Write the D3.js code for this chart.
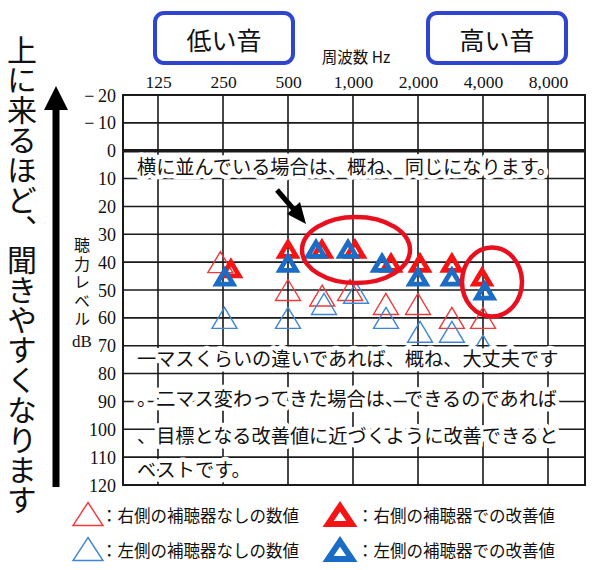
<!DOCTYPE html>
<html><head><meta charset="utf-8">
<script src="https://cdn.jsdelivr.net/npm/d3@7"></script>
<style>html,body{margin:0;padding:0;background:#fff;}</style>
</head><body>
<svg id="c" width="600" height="570"></svg>
<script>
// ---- data ----
const freqTicks = [125, 250, 500, 1000, 2000, 4000, 8000];
const freqLabels = ["125", "250", "500", "1,000", "2,000", "4,000", "8,000"];
const dbTicks = [-20, -10, 0, 10, 20, 30, 40, 50, 60, 70, 80, 90, 100, 110, 120];
const dbLabels = ["−\u200920", "−\u200910", "0", "10", "20", "30", "40", "50", "60", "70", "80", "90", "100", "110", "120"];

const rightUnaidedHz = [243, 500, 720, 970, 1420, 2000, 2870, 4000];
const rightUnaidedDb = [40, 50, 52, 50, 55, 55, 60, 60];
const leftUnaidedHz  = [254, 500, 734, 1033, 1422, 2044, 2870, 4000];
const leftUnaidedDb  = [60, 60, 55, 51, 60, 65, 65, 70];
const rightAidedHz   = [272, 500, 718, 1021, 1500, 2043, 2870, 3960];
const rightAidedDb   = [42, 35, 35, 35, 40, 40, 40, 45];
const leftAidedHz    = [255, 500, 674, 948, 1363, 2000, 2870, 4080];
const leftAidedDb    = [45, 40, 35, 35, 40, 45, 45, 50];

const lowLabel = "低い音", highLabel = "高い音";
const freqTitle = "周波数 Hz";
const yTitle = "聴力レベル";
const yTitleUnit = "dB";
const sideText = "上に来るほど、聞きやすくなります";
const note1 = "横に並んでいる場合は、概ね、同じになります。";
const note2 = ["一マスくらいの違いであれば、概ね、大丈夫です",
               "。二マス変わってきた場合は、できるのであれば",
               "、目標となる改善値に近づくように改善できると",
               "ベストです。"];
const legendItems = [
  {text: "：右側の補聴器なしの数値", color: "#ee3a3a", solid: false},
  {text: "：右側の補聴器での改善値", color: "#f41414", solid: true},
  {text: "：左側の補聴器なしの数値", color: "#3f86d2", solid: false},
  {text: "：左側の補聴器での改善値", color: "#1a6cc4", solid: true}
];

// ---- layout ----
const svg = d3.select("#c");
const L = 123, R = 585, T = 95, B = 485;
const x = d3.scaleLog().base(2).domain([125 / Math.pow(2, 35 / 65), 8000 * Math.pow(2, 37 / 65)]).range([L, R]);
const y = d3.scaleLinear().domain([-20, 120]).range([T, B]);
const jp = "'Noto Sans CJK JP', 'Noto Sans', sans-serif";
const serif = "'Liberation Serif', 'DejaVu Serif', serif";

// grid
const g = svg.append("g");
g.selectAll("line.h").data(dbTicks).join("line")
  .attr("x1", L).attr("x2", R).attr("y1", d => y(d)).attr("y2", d => y(d))
  .attr("stroke", "#1a1a1a").attr("stroke-width", d => d === 0 ? 3.5 : 1.6);
g.selectAll("line.v").data(freqTicks).join("line")
  .attr("x1", d => x(d)).attr("x2", d => x(d)).attr("y1", T).attr("y2", B)
  .attr("stroke", "#1a1a1a").attr("stroke-width", 1.6);
g.append("rect").attr("x", L).attr("y", T).attr("width", R - L).attr("height", B - T)
  .attr("fill", "none").attr("stroke", "#1a1a1a").attr("stroke-width", 2);

// axis labels (via d3 axes, domain/ticks hidden)
const yAxis = d3.axisLeft(y).tickValues(dbTicks).tickSize(0).tickPadding(0).tickFormat((d, i) => dbLabels[i]);
const ya = svg.append("g").attr("transform", `translate(${L - 7},0)`).call(yAxis);
ya.select(".domain").remove();
ya.selectAll("text").attr("font-family", serif).attr("font-size", 18).attr("fill", "#111").attr("dy", "0.34em");

const xAxis = d3.axisTop(x).tickValues(freqTicks).tickSize(0).tickPadding(0).tickFormat((d, i) => freqLabels[i]);
const xa = svg.append("g").attr("transform", `translate(0,${88})`).call(xAxis);
xa.select(".domain").remove();
xa.selectAll("text").attr("font-family", serif).attr("font-size", 17.5).attr("fill", "#111");

svg.append("text").attr("x", 356).attr("y", 63).attr("text-anchor", "middle")
  .attr("font-family", jp).attr("font-size", 15.5).attr("fill", "#111").text(freqTitle);

// y title (vertical)
svg.append("text").attr("x", 82).attr("y", 237)
  .attr("writing-mode", "vertical-rl").style("writing-mode", "vertical-rl")
  .attr("font-family", jp).attr("font-size", 16).attr("letter-spacing", 2.6)
  .attr("fill", "#111").text(yTitle);
svg.append("text").attr("x", 82).attr("y", 347).attr("text-anchor", "middle")
  .attr("font-family", serif).attr("font-size", 17).attr("fill", "#111").text(yTitleUnit);

// boxes on top
[[155, 293, lowLabel], [428, 566, highLabel]].forEach(([a, b, t]) => {
  svg.append("rect").attr("x", a).attr("y", 13).attr("width", b - a).attr("height", 50).attr("rx", 9)
    .attr("fill", "#fff").attr("stroke", "#2f45d2").attr("stroke-width", 4);
  svg.append("text").attr("x", (a + b) / 2).attr("y", 39).attr("text-anchor", "middle")
    .attr("dominant-baseline", "central").attr("font-family", jp).attr("font-size", 25).attr("fill", "#111").text(t);
});

// side vertical text and arrow
svg.append("text").attr("x", 22).attr("y", 35).attr("writing-mode", "vertical-rl")
  .style("writing-mode", "vertical-rl").attr("font-family", jp).attr("font-size", 30).attr("fill", "#111").text(sideText);
svg.append("path").attr("d", "M56,86 L68,110 L44,110 Z").attr("fill", "#000");
svg.append("rect").attr("x", 52.5).attr("y", 108).attr("width", 7).attr("height", 379).attr("fill", "#000");

// triangle helpers
function triPath(cx, cy, w, h) {
  return `M${cx},${cy - h / 2}L${cx + w / 2},${cy + h / 2}L${cx - w / 2},${cy + h / 2}Z`;
}
function solidTriPath(cx, cy, w, h, k) {
  const l = Math.sqrt(w * w / 4 + h * h);
  const r = w * h / (w + 2 * l);
  const iy = cy + h / 2 - r;
  const p = (px, py) => [cx + (px - cx) * k, iy + (py - iy) * k];
  const a = p(cx, cy - h / 2), b = p(cx + w / 2, cy + h / 2), c = p(cx - w / 2, cy + h / 2);
  return triPath(cx, cy, w, h) + `M${a[0]},${a[1]}L${c[0]},${c[1]}L${b[0]},${b[1]}Z`;
}

const series = [
  {hz: rightUnaidedHz, db: rightUnaidedDb, color: "#ee3a3a", solid: false},
  {hz: leftUnaidedHz,  db: leftUnaidedDb,  color: "#3f86d2", solid: false},
  {hz: rightAidedHz,   db: rightAidedDb,   color: "#f41414", solid: true},
  {hz: leftAidedHz,    db: leftAidedDb,    color: "#1a6cc4", solid: true}
];
const TW = 25, TH = 21;
series.forEach(s => {
  const pts = s.hz.map((h, i) => ({h, d: s.db[i]}));
  svg.append("g").selectAll("path").data(pts).join("path")
    .attr("d", p => s.solid ? solidTriPath(x(p.h), y(p.d), TW, TH, 0.33) : triPath(x(p.h), y(p.d), TW, TH))
    .attr("fill", s.solid ? s.color : "#fff").attr("fill-opacity", s.solid ? 1 : 0)
    .attr("fill-rule", "evenodd")
    .attr("stroke", s.solid ? "none" : s.color).attr("stroke-width", 1.4);
});

// highlight ellipses
svg.append("ellipse").attr("cx", 356).attr("cy", 250).attr("rx", 54).attr("ry", 33)
  .attr("fill", "none").attr("stroke", "#e8101e").attr("stroke-width", 4.5);
svg.append("ellipse").attr("cx", 492).attr("cy", 282).attr("rx", 30).attr("ry", 34.5)
  .attr("fill", "none").attr("stroke", "#e8101e").attr("stroke-width", 4.5);

// diagonal arrow
svg.append("line").attr("x1", 277).attr("y1", 190).attr("x2", 296).attr("y2", 212)
  .attr("stroke", "#000").attr("stroke-width", 5);
svg.append("path").attr("d", "M306,224 L287,214 L300,202 Z").attr("fill", "#000");

// notes with white halo
function note(t, ty) {
  svg.append("text").attr("x", 137).attr("y", ty).attr("dominant-baseline", "central")
    .attr("font-family", jp).attr("font-size", 19.2).attr("fill", "#111")
    .attr("stroke", "#fff").attr("stroke-width", 9).attr("stroke-linejoin", "round")
    .style("paint-order", "stroke").text(t);
}
note(note1, 166);
[358, 398, 435, 469].forEach((ty, i) => note(note2[i], ty));

// legend
legendItems.forEach((it, i) => {
  const col = i % 2, row = Math.floor(i / 2);
  const cx = col === 0 ? 88 : 340, cy = row === 0 ? 514 : 549;
  if (it.solid) {
    svg.append("path").attr("d", solidTriPath(cx, cy, 35, 26, 0.36)).attr("fill", it.color).attr("fill-rule", "evenodd");
  } else {
    svg.append("path").attr("d", triPath(cx, cy, 30, 23)).attr("fill", "none").attr("stroke", it.color).attr("stroke-width", 1.4);
  }
  svg.append("text").attr("x", cx + (it.solid ? 17 : 13)).attr("y", cy + 1).attr("dominant-baseline", "central")
    .attr("font-family", jp).attr("font-size", 16.5).attr("fill", "#111").text(it.text);
});
</script>
</body></html>
